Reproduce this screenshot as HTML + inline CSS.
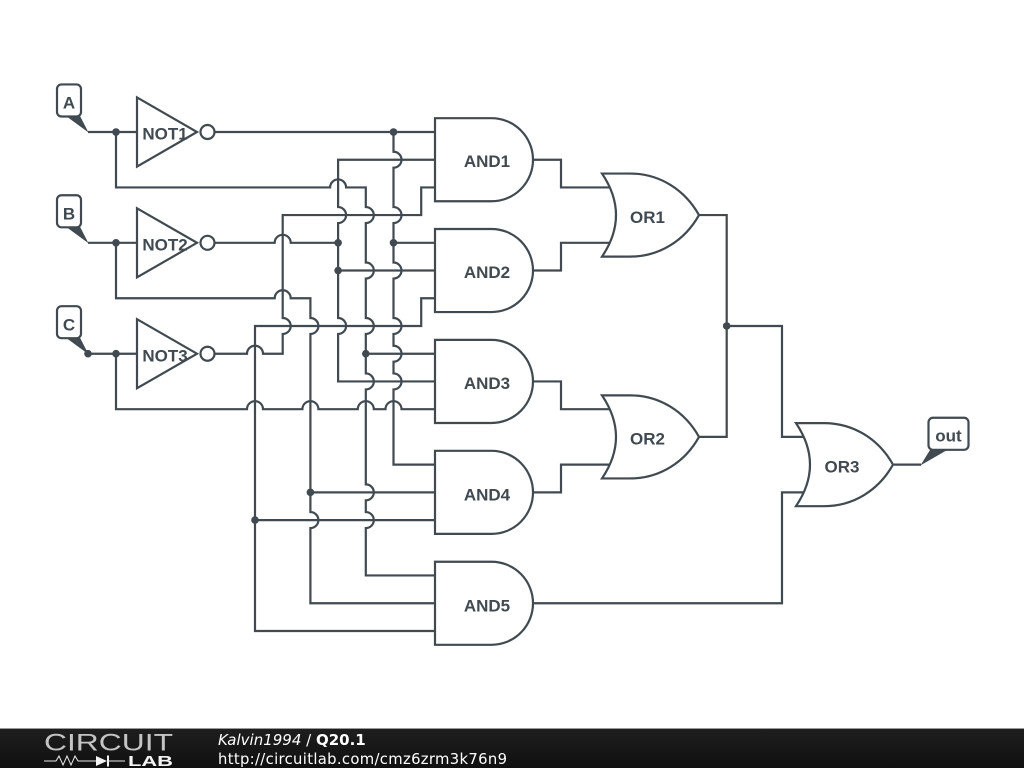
<!DOCTYPE html>
<html><head><meta charset="utf-8"><style>
html,body{margin:0;padding:0;background:#fff}
body{width:1024px;height:768px;overflow:hidden;position:relative}
svg{position:absolute;left:0;top:0}
.w{fill:none;stroke:#404a50;stroke-width:2.2}
.g{fill:#fff;stroke:#404a50;stroke-width:2.2;stroke-linejoin:miter}
.l{font:bold 17px "Liberation Sans",sans-serif;fill:#404a50;text-anchor:middle}
.d{fill:#404a50}
</style></head><body>
<svg width="1024" height="768" viewBox="0 0 1024 768">
<defs><linearGradient id="bar" x1="0" y1="0" x2="0" y2="1"><stop offset="0" stop-color="#1e1e1e"/><stop offset="1" stop-color="#101010"/></linearGradient></defs>
<g transform="matrix(1 0 0 1.001 0 -0.132)">
<g class="w">
<path d="M88 132H137M88 242.7H137M88 353.5H137"/>
<path d="M215 132H435"/>
<path d="M116 132V187.4H330.1a8 8 0 0 1 16 0H365.8V207a8 8 0 0 1 0 16V262.4a8 8 0 0 1 0 16V317.8a8 8 0 0 1 0 16V373.2a8 8 0 0 1 0 16V484a8 8 0 0 1 0 16V511.7a8 8 0 0 1 0 16V575H435"/>
<path d="M435 159.7H338.1V207a8 8 0 0 1 0 16V317.8a8 8 0 0 1 0 16V381.2H435"/>
<path d="M393.5 132V151.7a8 8 0 0 1 0 16V207a8 8 0 0 1 0 16V262.4a8 8 0 0 1 0 16V317.8a8 8 0 0 1 0 16V345.5a8 8 0 0 1 0 16V373.2a8 8 0 0 1 0 16V464.3H435"/>
<path d="M435 187.4H421.2V215H282.7V317.8a8 8 0 0 1 0 16V353.5H263a8 8 0 0 0 -16 0H215"/>
<path d="M215 242.7H274.7a8 8 0 0 1 16 0H338.1M393.5 242.7H435M338.1 270.4H435"/>
<path d="M116 242.7V298.1H274.7a8 8 0 0 1 16 0H310.4V317.8a8 8 0 0 1 0 16V511.7a8 8 0 0 1 0 16V602.8H435"/>
<path d="M435 298.1H421.2V325.8H255V630.5H435"/>
<path d="M365.8 353.5H435"/>
<path d="M116 353.5V408.9H247a8 8 0 0 1 16 0H302.4a8 8 0 0 1 16 0H357.8a8 8 0 0 1 16 0H385.5a8 8 0 0 1 16 0H435"/>
<path d="M310.4 492H435M255 519.7H435"/>
<path d="M533 159.7H561V187.4H612M533 270.4H561V242.7H612M533 381.2H561V408.9H612M533 492H561V464.3H612"/>
<path d="M699 215H726.7V436.6H699M726.7 325.8H782V436.6H806M533 602.8H782V492H806M893 464.3H921"/>
</g>
<g class="d">
<circle cx="116" cy="132" r="3.8"/><circle cx="116" cy="242.7" r="3.8"/><circle cx="116" cy="353.5" r="3.8"/><circle cx="88" cy="353.5" r="3.8"/>
<circle cx="393.5" cy="132" r="3.8"/><circle cx="338.1" cy="242.7" r="3.8"/><circle cx="393.5" cy="242.7" r="3.8"/><circle cx="338.1" cy="270.4" r="3.8"/>
<circle cx="365.8" cy="353.5" r="3.8"/><circle cx="310.4" cy="492" r="3.8"/><circle cx="255" cy="519.7" r="3.8"/><circle cx="726.7" cy="325.8" r="3.8"/>
</g>
<g class="g">
<path d="M137 97.5L197 132L137 166.5Z"/><circle cx="207.5" cy="132" r="7"/>
<path d="M137 208.2L197 242.7L137 277.2Z"/><circle cx="207.5" cy="242.7" r="7"/>
<path d="M137 319L197 353.5L137 388Z"/><circle cx="207.5" cy="353.5" r="7"/>
<path d="M435 118.2H491.5a41.500 41.500 0 0 1 0 83H435Z"/>
<path d="M435 228.9H491.5a41.500 41.500 0 0 1 0 83H435Z"/>
<path d="M435 339.7H491.5a41.500 41.500 0 0 1 0 83H435Z"/>
<path d="M435 450.5H491.5a41.500 41.500 0 0 1 0 83H435Z"/>
<path d="M435 561.3H491.5a41.500 41.500 0 0 1 0 83H435Z"/>
<path d="M602 173.5H630C660 173.5 685 190 699 215C685 240 660 256.5 630 256.5H602Q630 215 602 173.5Z"/>
<path d="M602 395.1H630C660 395.1 685 411.6 699 436.6C685 461.6 660 478.1 630 478.1H602Q630 436.6 602 395.1Z"/>
<path d="M796 422.8H824C854 422.8 879 439.3 893 464.3C879 489.3 854 505.8 824 505.8H796Q824 464.3 796 422.8Z"/>
</g>
<g class="d">
<path d="M88.500 132.500L66 116H80Z"/><path d="M88.500 243.200L66 226.700H80Z"/><path d="M88.500 354L66 337.500H80Z"/>
<path d="M920.500 465L931 448H950Z"/>
</g>
<g class="g">
<rect x="57" y="84.500" width="24" height="32" rx="4.500"/>
<rect x="57" y="195.200" width="24" height="32" rx="4.500"/>
<rect x="57" y="306" width="24" height="32" rx="4.500"/>
<rect x="928.500" y="417.500" width="40" height="32" rx="4.500"/>
</g>
<g class="l">
<text x="69" y="108.500">A</text><text x="69" y="219.500">B</text><text x="69" y="330.500">C</text>
<text x="948.500" y="441">out</text>
<text x="165" y="139.500">NOT1</text><text x="165" y="250.500">NOT2</text><text x="165" y="361.500">NOT3</text>
<text x="487" y="167">AND1</text><text x="487" y="278">AND2</text><text x="487" y="389">AND3</text><text x="487" y="500">AND4</text><text x="487" y="611">AND5</text>
<text x="647.500" y="223">OR1</text><text x="647.500" y="444">OR2</text><text x="842" y="472">OR3</text>
</g>
</g>
<rect x="0" y="728" width="1024" height="1" fill="#999"/>
<rect x="0" y="729" width="1024" height="39" fill="url(#bar)"/>
<text x="44" y="750.500" textLength="129" lengthAdjust="spacingAndGlyphs" style="font:24px 'Liberation Sans',sans-serif;fill:#c4c4c4">CIRCUIT</text>
<text x="128" y="766" textLength="45" lengthAdjust="spacingAndGlyphs" style="font:bold 15px 'Liberation Sans',sans-serif;fill:#f4f4f4">LAB</text>
<path d="M44 761H56l3-5 4 9 4-9 4 9 4-9 3 5H97M109 761H125" fill="none" stroke="#e8e8e8" stroke-width="1"/>
<path d="M96 756V766L107 761Z" fill="#f4f4f4"/><rect x="107" y="755.500" width="2" height="11" fill="#f4f4f4"/>
<text x="218" y="745" style="font:italic 15px 'DejaVu Sans',sans-serif;fill:#fff">Kalvin1994<tspan font-style="normal"> / </tspan><tspan font-style="normal" font-weight="bold">Q20.1</tspan></text>
<text x="218" y="764" textLength="289" style="font:14.800px 'DejaVu Sans',sans-serif;fill:#fff">http://circuitlab.com/cmz6zrm3k76n9</text>
</svg>
</body></html>
